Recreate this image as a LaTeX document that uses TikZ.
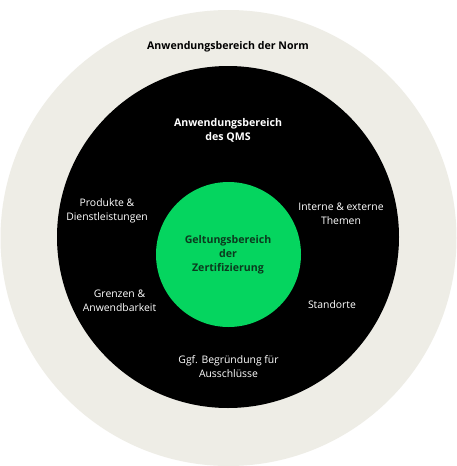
\documentclass[tikz,border=0pt]{standalone}
\usepackage{fontspec}
\setmainfont{Open Sans}
\definecolor{beige}{HTML}{EEEDE6}
\definecolor{qgreen}{HTML}{05D55F}
\definecolor{dgreen}{HTML}{0B3A1E}
\begin{document}
\begin{tikzpicture}[x=1pt,y=-1pt,
  lbl/.style={align=center,font=\fontsize{10.4}{14}\selectfont,inner sep=0pt},
  whitelbl/.style={lbl,text=white},
  title/.style={lbl,font=\fontsize{10.6}{14}\selectfont\bfseries}]
\useasboundingbox (0,0) rectangle (457,466);
\fill[white] (0,0) rectangle (457,466);
\node[circle,fill=beige,minimum size=456pt,inner sep=0pt] (norm) at (228.5,238) {};
\node[circle,fill=black,minimum size=342pt,inner sep=0pt] (qms) at (228,237) {};
\node[circle,fill=qgreen,minimum size=145pt,inner sep=0pt] (zert) at (228.5,254.5) {};
\node[title,text=black] (tnorm) at (228,47) {Anwendungsbereich der Norm};
\node[title,text=white] (tqms) at (228,130) {Anwendungsbereich\\des QMS};
\node[title,text=dgreen] (tzert) at (228,254.5) {Geltungsbereich\\der\\Zertifizierung};
\node[whitelbl] (prod) at (107,210.5) {Produkte \&\\Dienstleistungen};
\node[whitelbl] (themen) at (341,214) {Interne \& externe\\Themen};
\node[whitelbl] (grenz) at (119.5,301) {Grenzen \&\\Anwendbarkeit};
\node[whitelbl] (stand) at (332,304.5) {Standorte};
\node[whitelbl] (ggf) at (228.5,367) {Ggf. Begründung für\\Ausschlüsse};
\end{tikzpicture}
\end{document}
